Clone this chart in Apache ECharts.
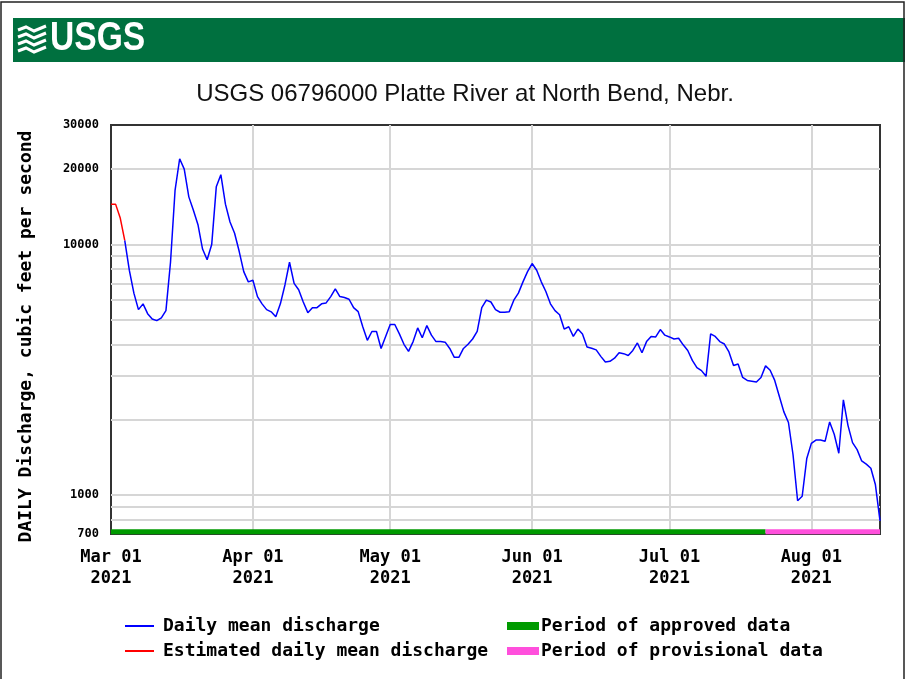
<!DOCTYPE html>
<html><head><meta charset="utf-8">
<script src="https://cdn.jsdelivr.net/npm/echarts@6/dist/echarts.min.js"></script>
<style>html,body{margin:0;padding:0;background:#fff}#c{width:905px;height:679px}</style>
</head><body><div id="c"></div>
<script>
// ---- data ----
const startDate = [2021, 2, 1];   // Mar 01 2021 (first daily value)
const endDate = [2021, 7, 16];    // Aug 16 2021 (last daily value)
const discharge = [
  14500, 14500, 12800, 10400, 7900, 6400, 5500, 5800, 5300, 5050,
  4970, 5100, 5450, 8500, 16500, 22000, 20000, 15500, 13700, 12000,
  9600, 8700, 10000, 17000, 19000, 14500, 12300, 11100, 9400, 7800,
  7100, 7200, 6200, 5800, 5500, 5390, 5150, 5800, 6900, 8500,
  7000, 6600, 5900, 5350, 5600, 5600, 5800, 5850, 6200, 6650,
  6200, 6150, 6050, 5600, 5400, 4700, 4150, 4500, 4500, 3850,
  4300, 4800, 4800, 4400, 4000, 3750, 4100, 4650, 4250, 4750,
  4350, 4100, 4100, 4080, 3850, 3550, 3550, 3850, 4000, 4200,
  4500, 5600, 6000, 5900, 5500, 5370, 5370, 5400, 6000, 6400,
  7100, 7800, 8400, 7900, 7100, 6500, 5800, 5450, 5250, 4600,
  4700, 4300, 4600, 4400, 3900, 3860, 3800, 3580, 3400, 3420,
  3520, 3700, 3670, 3610, 3780, 4050, 3700, 4100, 4300, 4280,
  4580, 4350, 4280, 4200, 4230, 3980, 3780, 3450, 3230, 3140,
  2980, 4400, 4300, 4100, 4010, 3730, 3290, 3340, 2950, 2870,
  2850, 2830, 2950, 3280, 3150, 2870, 2480, 2150, 1950, 1450,
  950, 990, 1400, 1610, 1660, 1660, 1640, 1960, 1750, 1470,
  2400, 1900, 1620, 1520, 1370, 1330, 1280, 1100, 790
];
const estimatedDays = 4;          // first days shown as estimated (red)
const provisionalStartDay = 143;  // Jul 22 2021
const periodLevel = 715;          // level of the approved/provisional band
const yTickValues = [700, 1000, 10000, 20000, 30000];
const yTickLabels = ['700', '1000', '10000', '20000', '30000'];
const yGridValues = [800, 900, 1000, 2000, 3000, 4000, 5000, 6000, 7000, 8000, 9000, 10000, 20000];
const xTickDates = [[2021, 2, 1], [2021, 3, 1], [2021, 4, 1], [2021, 5, 1], [2021, 6, 1], [2021, 7, 1]];
const xTickLabels = ['Mar 01\n2021', 'Apr 01\n2021', 'May 01\n2021', 'Jun 01\n2021', 'Jul 01\n2021', 'Aug 01\n2021'];
const titleText = 'USGS 06796000 Platte River at North Bend, Nebr.';
const yName = 'DAILY Discharge, cubic feet per second';
const seriesNames = ['Daily mean discharge', 'Estimated daily mean discharge', 'Period of approved data', 'Period of provisional data'];

// ---- build ----
const dayTime = i => new Date(startDate[0], startDate[1], startDate[2] + i).getTime();
const minT = dayTime(0);
const maxT = new Date(endDate[0], endDate[1], endDate[2]).getTime();
const pts = discharge.map((v, i) => [dayTime(i), v]);
const blue = pts.slice(estimatedDays - 1);
const red = pts.slice(0, estimatedDays);
const approved = [[minT, periodLevel], [dayTime(provisionalStartDay), periodLevel]];
const provisional = [[dayTime(provisionalStartDay), periodLevel], [maxT, periodLevel]];
const xTicks = xTickDates.map(d => new Date(d[0], d[1], d[2]).getTime());

const mono = 'DejaVu Sans Mono';
const gridColor = '#d6d6d6';

const gridLines = [];
yGridValues.forEach(v => gridLines.push({ yAxis: v }));
xTicks.forEach((t, i) => { if (i > 0) gridLines.push({ xAxis: t }); });

const labelLines = [];
yTickValues.forEach((v, i) => labelLines.push({
  yAxis: v,
  label: { show: true, position: 'start', formatter: yTickLabels[i], distance: 12,
    color: '#000', fontFamily: mono, fontWeight: 'bold', fontSize: 12 }
}));
xTicks.forEach((t, i) => labelLines.push({
  xAxis: t,
  label: { show: true, position: 'start', formatter: xTickLabels[i], distance: 13,
    color: '#000', fontFamily: mono, fontWeight: 'bold', fontSize: 17, lineHeight: 21, align: 'center' }
}));

const chart = echarts.init(document.getElementById('c'), null, { renderer: 'canvas' });
chart.setOption({
  animation: false,
  backgroundColor: '#fff',
  title: {
    text: titleText, left: 460, top: 77, textAlign: 'center',
    textStyle: { fontFamily: 'Liberation Sans, Arial', fontSize: 24, fontWeight: 'normal', color: '#111' }
  },
  graphic: [
    { type: 'rect', shape: { x: 1, y: 2, width: 903, height: 690 }, style: { fill: 'none', stroke: '#222', lineWidth: 1.5 }, silent: true, z: 10 },
    { type: 'rect', shape: { x: 13, y: 18, width: 892, height: 44 }, style: { fill: '#00703f' }, silent: true },
    { type: 'text', x: 50, y: 19, scaleX: 0.84, style: { text: 'USGS', fill: '#fff', font: 'bold 40px "Liberation Sans", Arial' }, silent: true },
    { type: 'polyline', shape: { points: [[18, 30], [26, 27], [34, 31], [46, 26]] }, style: { stroke: '#fff', lineWidth: 3, fill: 'none' }, silent: true },
    { type: 'polyline', shape: { points: [[18, 37], [26, 34], [34, 38], [46, 33]] }, style: { stroke: '#fff', lineWidth: 3, fill: 'none' }, silent: true },
    { type: 'polyline', shape: { points: [[18, 44], [26, 41], [34, 45], [46, 40]] }, style: { stroke: '#fff', lineWidth: 3, fill: 'none' }, silent: true },
    { type: 'polyline', shape: { points: [[18, 51], [26, 48], [34, 52], [46, 47]] }, style: { stroke: '#fff', lineWidth: 3, fill: 'none' }, silent: true }
  ],
  grid: { left: 111, top: 125, right: 25, bottom: 145, show: true, borderColor: '#333', borderWidth: 2, backgroundColor: '#fff' },
  xAxis: {
    type: 'time', min: minT, max: maxT,
    axisLine: { show: false }, axisTick: { show: false }, axisLabel: { show: false }, splitLine: { show: false }
  },
  yAxis: {
    type: 'log', logBase: 10, min: 700, max: 30000,
    axisLine: { show: false }, axisTick: { show: false }, axisLabel: { show: false }, splitLine: { show: false },
    name: yName, nameLocation: 'middle', nameRotate: 90, nameGap: 76,
    nameTextStyle: { fontFamily: mono, fontWeight: 'bold', fontSize: 18, color: '#000', padding: [0, 14, 0, 0] }
  },
  legend: [
    {
      left: 125, top: 617, padding: 0, orient: 'vertical', itemGap: 7, itemWidth: 29, itemHeight: 2,
      data: [{ name: seriesNames[0], icon: 'rect' }, { name: seriesNames[1], icon: 'rect' }],
      textStyle: { fontFamily: mono, fontWeight: 'bold', fontSize: 18, lineHeight: 18, color: '#000', padding: [0, 0, 0, 4] }
    },
    {
      left: 507, top: 617, padding: 0, orient: 'vertical', itemGap: 7, itemWidth: 32, itemHeight: 8,
      data: [{ name: seriesNames[2], icon: 'rect' }, { name: seriesNames[3], icon: 'rect' }],
      textStyle: { fontFamily: mono, fontWeight: 'bold', fontSize: 18, lineHeight: 18, color: '#000', padding: [0, 0, 0, -3] }
    }
  ],
  series: [
    {
      name: 'grid', type: 'line', data: [], silent: true, z: 1,
      markLine: { silent: true, symbol: 'none', animation: false, z: 1,
        lineStyle: { color: gridColor, width: 2, type: 'solid' }, label: { show: false }, data: gridLines }
    },
    {
      name: 'labels', type: 'line', data: [], silent: true, z: 1,
      markLine: { silent: true, symbol: 'none', animation: false, z: 1,
        lineStyle: { color: 'rgba(0,0,0,0)', width: 0, type: 'solid' }, data: labelLines }
    },
    {
      name: seriesNames[0], type: 'line', data: blue, showSymbol: false, symbol: 'none',
      color: '#0000ff', itemStyle: { color: '#0000ff' }, lineStyle: { color: '#0000ff', width: 1.5 }, z: 3
    },
    {
      name: seriesNames[1], type: 'line', data: red, showSymbol: false, symbol: 'none',
      color: '#ff0000', itemStyle: { color: '#ff0000' }, lineStyle: { color: '#ff0000', width: 1.5 }, z: 3
    },
    {
      name: seriesNames[2], type: 'line', data: approved, showSymbol: false, symbol: 'none', clip: false,
      color: '#009a00', itemStyle: { color: '#009a00' }, lineStyle: { color: '#009a00', width: 5, cap: 'butt' }, z: 4
    },
    {
      name: seriesNames[3], type: 'line', data: provisional, showSymbol: false, symbol: 'none', clip: false,
      color: '#ff4fdc', itemStyle: { color: '#ff4fdc' }, lineStyle: { color: '#ff4fdc', width: 5, cap: 'butt' }, z: 4
    }
  ]
});
</script></body></html>
